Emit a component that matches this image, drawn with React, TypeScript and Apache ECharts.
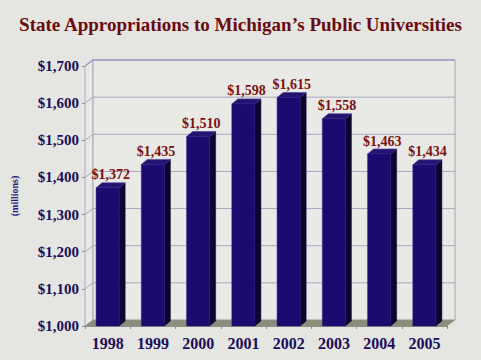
import React, { useEffect, useRef } from "react";
import * as echarts from "echarts";

const years = ["1998", "1999", "2000", "2001", "2002", "2003", "2004", "2005"];
const appropriations = [1372, 1435, 1510, 1598, 1615, 1558, 1463, 1434];
const yTicks = [1000, 1100, 1200, 1300, 1400, 1500, 1600, 1700];

const WALL_DX = 8;
const WALL_DY = 6;
const BAR_DX = 6;
const BAR_DY = 5;

const fmt = (v: number) => "$" + v.toLocaleString("en-US");

export default function App() {
  const ref = useRef<HTMLDivElement>(null);
  useEffect(() => {
    const chart = echarts.init(ref.current!, null, { renderer: "svg" });
    const serif = "'Liberation Serif', 'Times New Roman', serif";
    chart.setOption({
      animation: false,
      backgroundColor: "#e5e5e1",
      title: {
        text: "State Appropriations to Michigan\u2019s Public Universities",
        left: "center",
        top: 10,
        textStyle: { fontFamily: serif, fontWeight: "bold", fontSize: 19, color: "#6a0a0e" },
      },
      grid: { left: 85, right: 34, top: 66, bottom: 34 },
      xAxis: {
        type: "category",
        data: years,
        axisLine: { show: true, lineStyle: { color: "#8a8a80", width: 1 } },
        axisTick: { show: true, length: 3, lineStyle: { color: "#8a8a80" } },
        axisLabel: {
          margin: 9,
          fontFamily: serif,
          fontWeight: "bold",
          fontSize: 16,
          color: "#1c0c5c",
        },
      },
      yAxis: {
        type: "value",
        min: 1000,
        max: 1700,
        interval: 100,
        name: "(millions)",
        nameLocation: "middle",
        nameRotate: 90,
        nameGap: 66,
        nameTextStyle: { fontFamily: serif, fontWeight: "bold", fontSize: 10, color: "#2a1a80" },
        axisLine: { show: true, lineStyle: { color: "#8a8a90", width: 1 } },
        axisTick: { show: true, length: 3, lineStyle: { color: "#8a8a90" } },
        splitLine: { show: false },
        axisLabel: {
          margin: 6,
          formatter: (v: number) => fmt(v),
          fontFamily: serif,
          fontWeight: "bold",
          fontSize: 15,
          color: "#1c0c5c",
        },
      },
      series: [
        {
          type: "custom",
          z: 1,
          silent: true,
          data: [[0, 1000]],
          renderItem: (params: any, api: any) => {
            const cs = params.coordSys;
            const x0 = cs.x;
            const x1 = cs.x + cs.width;
            const top = cs.y;
            const bottom = cs.y + cs.height;
            const children: any[] = [];
            children.push({
              type: "polygon",
              shape: { points: [[x0, top], [x0 + WALL_DX, top - WALL_DY], [x0 + WALL_DX, bottom - WALL_DY], [x0, bottom]] },
              style: { fill: "#e8e8e6", stroke: "#b0aac8", lineWidth: 1 },
            });
            children.push({
              type: "rect",
              shape: { x: x0 + WALL_DX, y: top - WALL_DY, width: cs.width, height: cs.height },
              style: { fill: "#e9e9e5", stroke: "#a8a8b4", lineWidth: 1 },
            });
            children.push({
              type: "polygon",
              shape: { points: [[x0, bottom], [x0 + WALL_DX, bottom - WALL_DY], [x1 + WALL_DX, bottom - WALL_DY], [x1, bottom]] },
              style: { fill: "#8c8c7c", stroke: "#9a9a8c", lineWidth: 0.5 },
            });
            yTicks.forEach((v) => {
              if (v === 1000) return;
              const y = api.coord([0, v])[1];
              children.push({
                type: "polyline",
                shape: { points: [[x0, y], [x0 + WALL_DX, y - WALL_DY], [x1 + WALL_DX, y - WALL_DY]] },
                style: { fill: "none", stroke: v === 1700 ? "#a898d0" : "#aaa6c0", lineWidth: v === 1700 ? 1.5 : 1 },
              });
            });
            return { type: "group", children };
          },
        },
        {
          type: "custom",
          z: 2,
          data: appropriations.map((v, i) => [i, v]),
          encode: { x: 0, y: 1 },
          renderItem: (params: any, api: any) => {
            const idx = api.value(0);
            const val = api.value(1);
            const topPt = api.coord([idx, val]);
            const basePt = api.coord([idx, 1000]);
            const band = api.size([1, 0])[0];
            const w = band * 0.51;
            const cx = topPt[0];
            const l = cx - w / 2;
            const r = cx + w / 2;
            const t = topPt[1];
            const b = basePt[1];
            return {
              type: "group",
              children: [
                {
                  type: "polygon",
                  shape: { points: [[r, t], [r + BAR_DX, t - BAR_DY], [r + BAR_DX, b - BAR_DY], [r, b]] },
                  style: { fill: "#0b0630", stroke: "#0b0630", lineWidth: 0.5 },
                },
                {
                  type: "polygon",
                  shape: { points: [[l, t], [l + BAR_DX, t - BAR_DY], [r + BAR_DX, t - BAR_DY], [r, t]] },
                  style: { fill: "#231470", stroke: "#4a3a9a", lineWidth: 0.6 },
                },
                {
                  type: "rect",
                  shape: { x: l, y: t, width: w, height: b - t },
                  style: { fill: "#1c0a70", stroke: "#2a1a80", lineWidth: 0.5 },
                },
                {
                  type: "text",
                  style: {
                    text: fmt(val),
                    x: cx + BAR_DX / 2,
                    y: t - BAR_DY - 1,
                    textAlign: "center",
                    textVerticalAlign: "bottom",
                    fill: "#7c1010",
                    font: "bold 14px 'Liberation Serif', 'Times New Roman', serif",
                  },
                },
              ],
            };
          },
        },
      ],
    });
    return () => chart.dispose();
  }, []);
  return <div ref={ref} style={{ position: "fixed", left: 0, top: 0, width: 481, height: 360 }} />;
}
